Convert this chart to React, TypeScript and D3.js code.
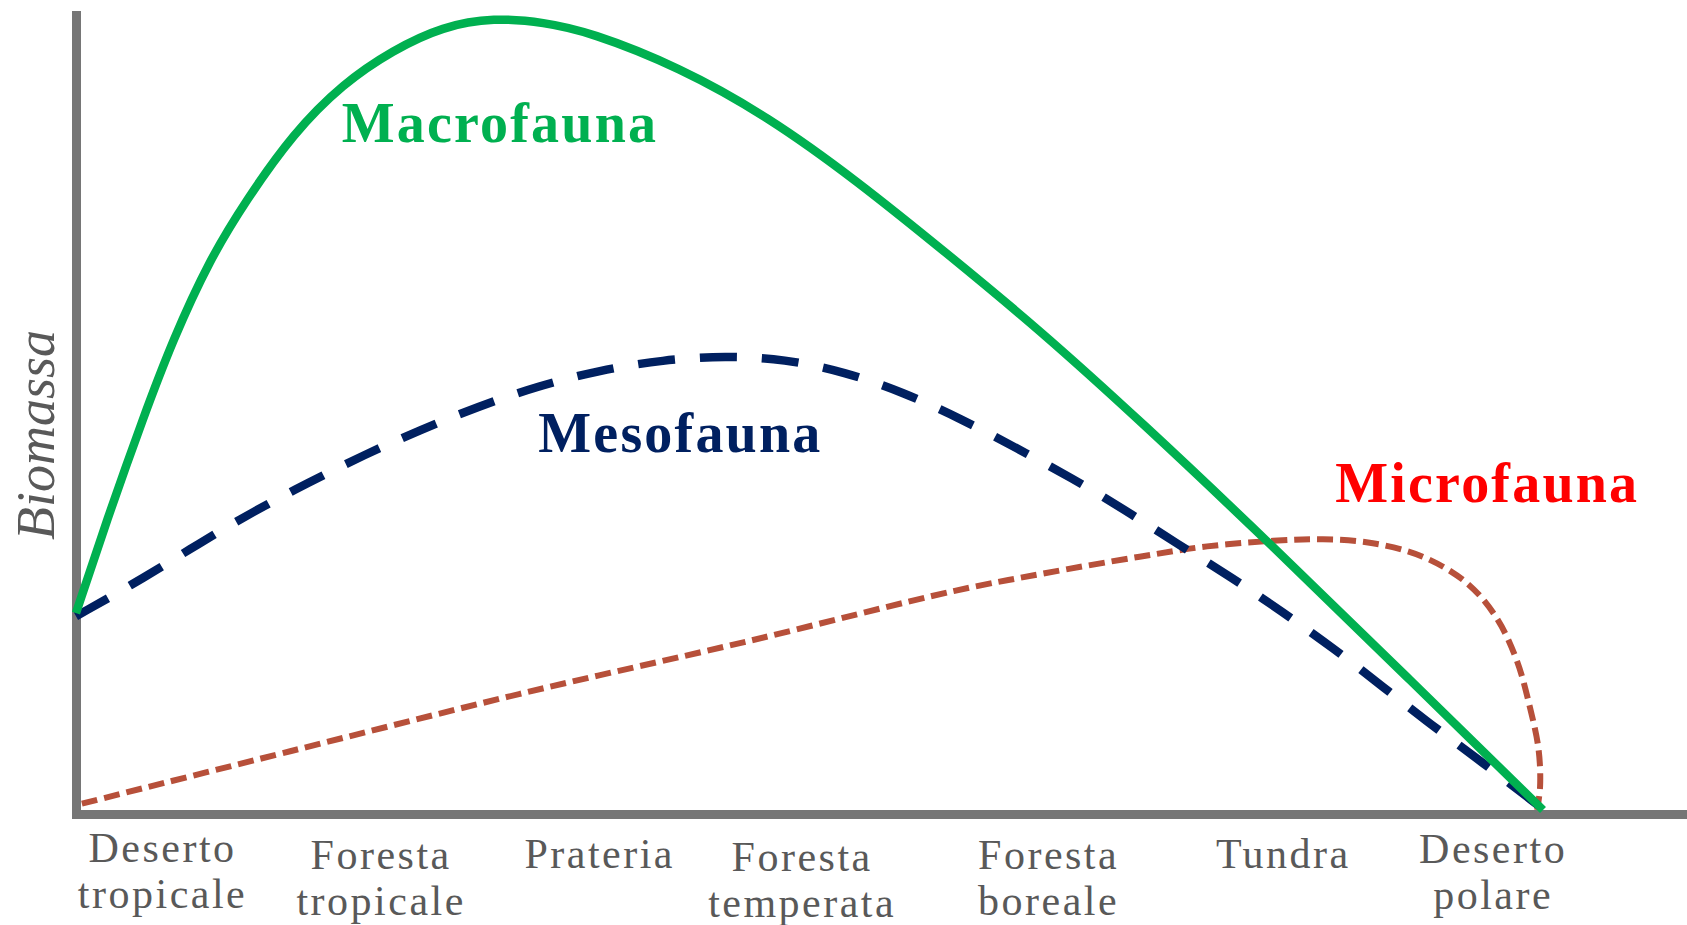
import React from 'react';
import * as d3 from 'd3';

// Biome gradient along the x axis (0 = Deserto tropicale, 100 = Deserto polare)
const categories: string[][] = [
  ['Deserto', 'tropicale'],
  ['Foresta', 'tropicale'],
  ['Prateria'],
  ['Foresta', 'temperata'],
  ['Foresta', 'boreale'],
  ['Tundra'],
  ['Deserto', 'polare'],
];
const categoryPos = [5.9, 20.8, 35.7, 49.5, 66.3, 82.3, 96.6];
const categoryNudge = [-4, 3, 2, 5, 3, 2, -3];

// Relative biomass, [gradient position, biomass]
const macrofauna: [number, number][] = [
  [0, 24.8], [2.1, 36.5], [4.6, 49.5], [6.6, 59.2], [9.1, 69.3], [11.6, 76.8],
  [14.8, 85.2], [18.2, 91.5], [21.6, 95.7], [25.0, 98.7], [28.5, 99.8], [31.9, 99.2],
  [35.0, 98.0], [41.1, 93.6], [47.2, 87.3], [53.2, 79.3], [59.3, 70.2], [65.6, 60.6],
  [72.5, 49.1], [81.6, 33.2], [90.7, 16.8], [100, 0],
];
const mesofauna: [number, number][] = [
  [0, 24.4], [4.8, 29.4], [8.3, 33.5], [12.1, 37.6], [15.8, 41.2], [19.6, 44.7],
  [23.5, 47.9], [27.4, 50.8], [31.5, 53.4], [35.7, 55.4], [40.0, 56.7], [44.3, 57.2],
  [48.3, 56.8], [52.4, 55.2], [56.4, 52.6], [60.3, 49.3], [64.1, 45.6], [67.9, 41.8],
  [71.5, 37.8], [75.0, 33.6], [78.7, 29.4], [82.2, 25.0], [85.7, 20.4], [89.1, 15.5],
  [92.4, 10.7], [95.8, 6.1], [99.8, 0.4],
];
const microfauna: [number, number][] = [
  [0.4, 0.8], [14.6, 7.4], [30.2, 14.6], [45.9, 21.3], [59.9, 27.6], [65.7, 29.7],
  [72.5, 31.9], [77.1, 33.2], [81.6, 33.9], [85.0, 34.1], [88.4, 33.6], [91.8, 31.9],
  [94.8, 28.6], [96.8, 24.3], [98.2, 18.9], [99.1, 13.0], [99.7, 7.6], [99.8, 2.9],
  [99.6, 0],
];

const seriesNames = ['Macrofauna', 'Mesofauna', 'Microfauna'];
const seriesLabelAt: [number, number][] = [[28.9, 84.1], [41.2, 45.1], [96.2, 38.8]];

const W = 1687;
const H = 925;
const FONT = '"Liberation Serif", "Times New Roman", serif';
const GREY = '#767676';
const TEXT = '#595959';

export default function App() {
  const x = d3.scaleLinear().domain([0, 100]).range([76, 1543]);
  const y = d3.scaleLinear().domain([0, 100]).range([810, 16]);

  const smooth = d3
    .line<[number, number]>()
    .x((d) => x(d[0]))
    .y((d) => y(d[1]))
    .curve(d3.curveBasis);
  const loose = d3
    .line<[number, number]>()
    .x((d) => x(d[0]))
    .y((d) => y(d[1]))
    .curve(d3.curveCatmullRom.alpha(0.5));

  const series = [
    { d: smooth(macrofauna), color: '#00B050', width: 8.5, dash: undefined, label: '#00B050' },
    { d: smooth(mesofauna), color: '#002060', width: 8.5, dash: '37 25', label: '#002060' },
    { d: loose(microfauna), color: '#B7503A', width: 6, dash: '16 7', label: '#FF0000' },
  ];

  const axisY = y(0) + 4.5;
  const axisX = x(0) + 0.5;

  return (
    <svg
      width={W}
      height={H}
      style={{ position: 'absolute', left: 0, top: 0, background: '#fff' }}
    >
      {/* axes */}
      <line x1={axisX} x2={axisX} y1={11} y2={axisY + 4.5} stroke={GREY} strokeWidth={9} />
      <line x1={axisX - 4.5} x2={W} y1={axisY} y2={axisY} stroke={GREY} strokeWidth={9} />

      {/* curves, microfauna underneath */}
      {[2, 1, 0].map((i) => (
        <path
          key={i}
          d={series[i].d ?? ''}
          fill="none"
          stroke={series[i].color}
          strokeWidth={series[i].width}
          strokeDasharray={series[i].dash}
        />
      ))}

      {/* series labels */}
      {seriesNames.map((name, i) => (
        <text
          key={name}
          x={x(seriesLabelAt[i][0])}
          y={y(seriesLabelAt[i][1])}
          textAnchor="middle"
          fontFamily={FONT}
          fontWeight="bold"
          fontSize={56}
          letterSpacing={2.2}
          fill={series[i].label}
        >
          {name}
        </text>
      ))}

      {/* category labels */}
      {categories.map((lines, i) => (
        <text
          key={i}
          x={x(categoryPos[i])}
          y={866 + categoryNudge[i]}
          textAnchor="middle"
          fontFamily={FONT}
          fontSize={42}
          letterSpacing={2.5}
          fill={TEXT}
        >
          {lines.map((t, j) => (
            <tspan key={j} x={x(categoryPos[i])} dy={j === 0 ? 0 : 46}>
              {t}
            </tspan>
          ))}
        </text>
      ))}

      {/* y axis title */}
      <text
        transform="translate(54,435) rotate(-90)"
        textAnchor="middle"
        fontFamily={FONT}
        fontStyle="italic"
        fontSize={54}
        fill={TEXT}
      >
        Biomassa
      </text>
    </svg>
  );
}
